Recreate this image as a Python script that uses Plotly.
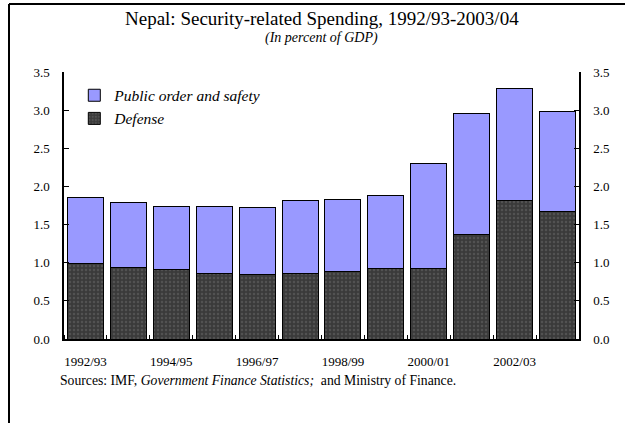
import plotly.graph_objects as go

years = ["1992/93", "1993/94", "1994/95", "1995/96", "1996/97", "1997/98",
         "1998/99", "1999/00", "2000/01", "2001/02", "2002/03", "2003/04"]
total = [1.86, 1.785, 1.74, 1.74, 1.73, 1.81, 1.83, 1.885, 2.295, 2.95, 3.28, 2.98]
defense = [0.99, 0.94, 0.91, 0.855, 0.845, 0.86, 0.88, 0.925, 0.93, 1.365, 1.815, 1.667]
public_order = [round(t - d, 3) for t, d in zip(total, defense)]
tick_labels = ["1992/93", "1994/95", "1996/97", "1998/99", "2000/01", "2002/03"]

xs = list(range(len(years)))
FONT = "Liberation Serif"

fig = go.Figure()
fig.add_trace(go.Bar(
    x=xs, y=defense, name="Defense",
    marker=dict(color="#3a3a3a", line=dict(color="#000000", width=1),
                pattern=dict(shape=".", fgcolor="#6a6a6a", bgcolor="#3a3a3a",
                             size=4, solidity=0.3)),
))
fig.add_trace(go.Bar(
    x=xs, y=public_order, name="Public order and safety",
    marker=dict(color="#9999ff", line=dict(color="#000000", width=1)),
))
# invisible trace to activate right axis
fig.add_trace(go.Scatter(x=[xs[0]], y=[0], yaxis="y2", mode="markers",
                         marker=dict(opacity=0), showlegend=False, hoverinfo="skip"))

fig.update_layout(
    width=625, height=423,
    margin=dict(l=64, r=46, t=72, b=84),
    barmode="stack", bargap=0.16,
    paper_bgcolor="white", plot_bgcolor="white",
    font=dict(family=FONT, size=13, color="black"),
    showlegend=True,
    legend=dict(x=0.02, y=0.975, xanchor="left", yanchor="top",
                traceorder="reversed", bgcolor="rgba(0,0,0,0)",
                font=dict(family=FONT, size=15.5, style="italic"),
                itemwidth=30, tracegroupgap=0),
    xaxis=dict(range=[-0.5, 11.5], tickmode="array",
               tickvals=[xs[i] for i in range(0, len(xs), 2)],
               ticktext=tick_labels, ticks="", showline=True,
               linecolor="black", linewidth=2, showgrid=False, zeroline=False,
               ticklabelstandoff=9, tickfont=dict(family=FONT, size=13),
               minor=dict(tick0=-0.5, dtick=1, ticks="inside", ticklen=4,
                          tickcolor="black", showgrid=False)),
    yaxis=dict(range=[0, 3.5], dtick=0.5, tickformat=".1f", ticks="inside",
               ticklen=5, tickcolor="black", showline=True, linecolor="black",
               linewidth=1.5, showgrid=False, zeroline=False,
               ticklabelstandoff=10, tickfont=dict(family=FONT, size=13)),
    yaxis2=dict(range=[0, 3.5], dtick=0.5, tickformat=".1f", ticks="inside",
                ticklen=5, tickcolor="black", showline=True, linecolor="black",
                linewidth=1.5, showgrid=False, zeroline=False, overlaying="y",
                side="right", ticklabelstandoff=10,
                tickfont=dict(family=FONT, size=13)),
)

fig.add_annotation(text="Nepal: Security-related Spending, 1992/93-2003/04",
                   xref="paper", yref="paper", x=0.5, y=1, yshift=54,
                   showarrow=False, font=dict(family=FONT, size=19),
                   xanchor="center", yanchor="middle")
fig.add_annotation(text="<i>(In percent of GDP)</i>",
                   xref="paper", yref="paper", x=0.5, y=1, yshift=34,
                   showarrow=False, font=dict(family=FONT, size=14),
                   xanchor="center", yanchor="middle")
fig.add_annotation(text="Sources: IMF, <i>Government Finance Statistics;</i>  and Ministry of Finance.",
                   xref="paper", yref="paper", x=0.0, y=0, xshift=-6, yshift=-41,
                   showarrow=False, font=dict(family=FONT, size=13.7),
                   xanchor="left", yanchor="middle")

# outer frame (top and left edges)
fig.add_shape(type="line", xref="paper", yref="paper",
              x0=-55/515, x1=1 + 46/515, y0=1 + 68/267, y1=1 + 68/267,
              line=dict(color="black", width=2))
fig.add_shape(type="line", xref="paper", yref="paper",
              x0=-55/515, x1=-55/515, y0=1 + 68/267, y1=-84/267,
              line=dict(color="black", width=2))

fig.write_html("out.html")
